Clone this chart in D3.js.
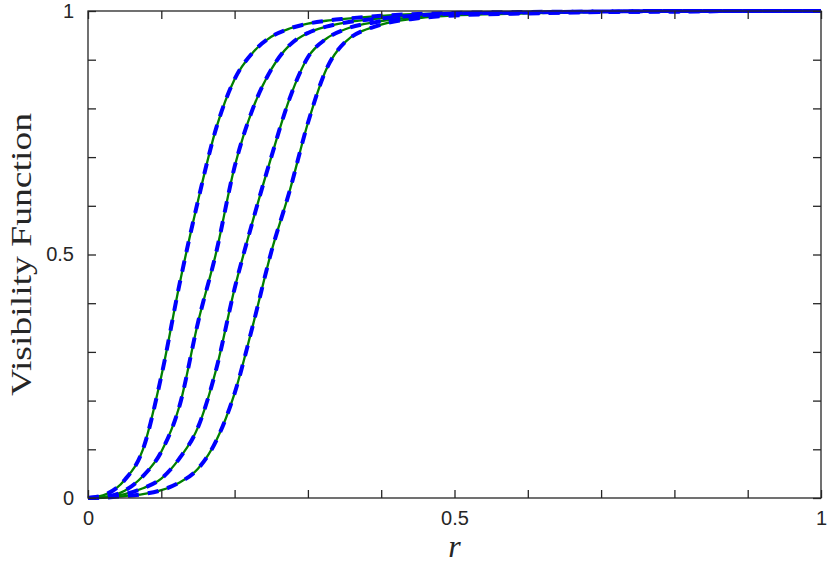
<!DOCTYPE html>
<html>
<head>
<meta charset="utf-8">
<script src="https://cdn.jsdelivr.net/npm/d3@7"></script>
<style>
  body { margin: 0; background: #fff; }
  svg { display: block; }
</style>
</head>
<body>
<div id="chart"></div>
<script>
	const width = 831, height = 565;
	const margin = {top: 11, right: 10, bottom: 67, left: 88};

	// radius samples shared by all curves
	const rValues = [0, 0.025, 0.05, 0.075, 0.1, 0.125, 0.15, 0.175, 0.2, 0.225, 0.25, 0.275, 0.3, 0.325, 0.35, 0.4, 0.45, 0.5, 0.6, 0.7, 0.8, 0.9, 1];
	const visA = [0, 0.008, 0.037, 0.10, 0.25, 0.44, 0.61, 0.76, 0.86, 0.915, 0.947, 0.964, 0.974, 0.98, 0.984, 0.99, 0.994, 0.996, 0.998, 0.999, 1, 1, 1];
	const visB = [0, 0.003, 0.015, 0.045, 0.095, 0.19, 0.36, 0.505, 0.68, 0.80, 0.88, 0.93, 0.955, 0.968, 0.976, 0.985, 0.991, 0.995, 0.997, 0.999, 1, 1, 1];
	const visC = [0, 0.002, 0.008, 0.02, 0.04, 0.082, 0.145, 0.265, 0.43, 0.57, 0.70, 0.82, 0.905, 0.943, 0.962, 0.979, 0.988, 0.993, 0.996, 0.998, 0.999, 1, 1];
	const visD = [0, 0.001, 0.004, 0.008, 0.016, 0.032, 0.06, 0.118, 0.215, 0.355, 0.505, 0.63, 0.77, 0.88, 0.935, 0.972, 0.985, 0.991, 0.995, 0.998, 0.999, 1, 1];
	const series = [visA, visB, visC, visD];

	const tickValues = d3.range(0, 1.0001, 0.1);
	const labelledTicks = [0, 0.5, 1];

	const svg = d3.select("#chart").append("svg")
		.attr("width", width).attr("height", height);

	const plotW = width - margin.left - margin.right;
	const plotH = height - margin.top - margin.bottom;

	const x = d3.scaleLinear().domain([0, 1]).range([margin.left, margin.left + plotW]);
	const y = d3.scaleLinear().domain([0, 1]).range([margin.top + plotH, margin.top]);

	const fmt = d => labelledTicks.some(t => Math.abs(t - d) < 1e-9) ? d3.format("~g")(d) : "";

	function styleAxis(g) {
		g.select(".domain").remove();
		g.selectAll(".tick line").attr("stroke", "#262626").attr("stroke-width", 1.3);
		g.selectAll(".tick text")
			.attr("font-family", "'Liberation Sans', Arial, sans-serif")
			.attr("font-size", 20).attr("fill", "#262626");
	}

	/*============= curves ===============*/
	const line = d3.line()
		.x((d, i) => x(rValues[i]))
		.y(d => y(d))
		.curve(d3.curveMonotoneX);

	const curves = svg.append("g");
	series.forEach(s => {
		curves.append("path").attr("d", line(s))
			.attr("fill", "none").attr("stroke", "#008000").attr("stroke-width", 2.3);
	});
	series.forEach(s => {
		curves.append("path").attr("d", line(s))
			.attr("fill", "none").attr("stroke", "#0000ff").attr("stroke-width", 4)
			.attr("stroke-dasharray", "11,9");
	});

	/*============= axes ===============*/
	svg.append("g").attr("transform", `translate(0,${margin.top + plotH})`)
		.call(d3.axisBottom(x).tickValues(tickValues).tickSize(-8).tickPadding(13).tickFormat(fmt))
		.call(styleAxis);
	svg.append("g").attr("transform", `translate(0,${margin.top})`)
		.call(d3.axisTop(x).tickValues(tickValues).tickSize(-8).tickFormat(""))
		.call(styleAxis);
	svg.append("g").attr("transform", `translate(${margin.left},0)`)
		.call(d3.axisLeft(y).tickValues(tickValues).tickSize(-8).tickPadding(14).tickFormat(fmt))
		.call(styleAxis);
	svg.append("g").attr("transform", `translate(${margin.left + plotW},0)`)
		.call(d3.axisRight(y).tickValues(tickValues).tickSize(-8).tickFormat(""))
		.call(styleAxis);

	svg.append("rect")
		.attr("x", margin.left).attr("y", margin.top)
		.attr("width", plotW).attr("height", plotH)
		.attr("fill", "none").attr("stroke", "#262626").attr("stroke-width", 1.3);

	/*============= labels ===============*/
	svg.append("text")
		.attr("x", x(0.5)).attr("y", 557)
		.attr("text-anchor", "middle")
		.style("font-family", "'Liberation Serif', serif")
		.style("font-style", "italic").style("font-size", "32px").style("fill", "#262626")
		.text("r");

	svg.append("text")
		.attr("transform", `translate(31,${y(0.5)}) rotate(-90)`)
		.attr("text-anchor", "middle")
		.attr("textLength", 283).attr("lengthAdjust", "spacingAndGlyphs")
		.style("font-family", "'Liberation Serif', serif")
		.style("font-size", "29px").style("fill", "#262626")
		.text("Visibility Function");
</script>
</body>
</html>
